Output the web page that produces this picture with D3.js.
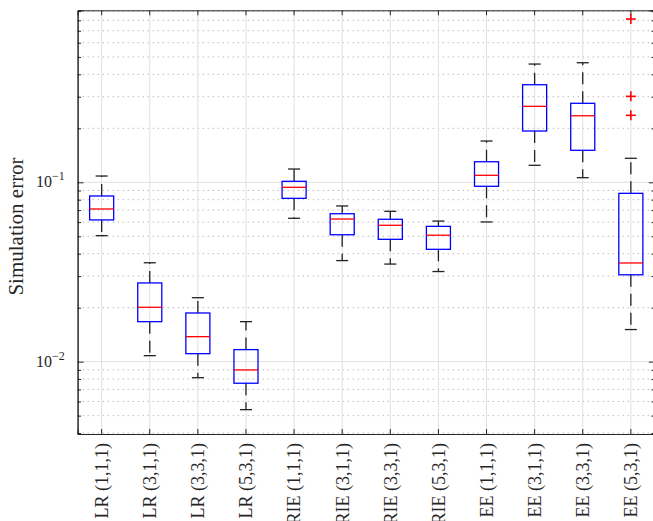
<!DOCTYPE html>
<html>
<head>
<meta charset="utf-8">
<script src="https://cdn.jsdelivr.net/npm/d3@7"></script>
<style>
  body { margin:0; background:#fff; }
  svg { display:block; }
  text { font-family:"Liberation Serif", "Times New Roman", serif; fill:#262626; }
</style>
</head>
<body>
<div class="chart"></div>
<script>
// categories along x
var categories = ["LR (1,1,1)", "LR (3,1,1)", "LR (3,3,1)", "LR (5,3,1)",
                  "RIE (1,1,1)", "RIE (3,1,1)", "RIE (3,3,1)", "RIE (5,3,1)",
                  "EE (1,1,1)", "EE (3,1,1)", "EE (3,3,1)", "EE (5,3,1)"];
// box statistics
var whiskerLow  = [0.0504, 0.0108, 0.00814, 0.0054, 0.0630, 0.0366, 0.0350, 0.0318, 0.0601, 0.1244, 0.1061, 0.0151];
var q1          = [0.0617, 0.01671, 0.01108, 0.00758, 0.0814, 0.0510, 0.0481, 0.0423, 0.0950, 0.1932, 0.1508, 0.0305];
var median      = [0.0710, 0.0201, 0.01378, 0.00899, 0.0938, 0.0624, 0.0576, 0.0507, 0.1094, 0.2652, 0.2350, 0.0355];
var q3          = [0.0839, 0.02747, 0.01868, 0.01167, 0.1013, 0.0668, 0.0622, 0.0568, 0.1302, 0.3500, 0.2757, 0.0868];
var whiskerHigh = [0.1084, 0.0356, 0.02273, 0.01671, 0.1186, 0.0738, 0.0689, 0.0608, 0.1699, 0.4564, 0.4642, 0.1361];
// outliers: category index, value
var outlierCat = [11, 11, 11];
var outlierVal = [0.8135, 0.3015, 0.2363];

var majorTicks = [0.01, 0.1];
var minorTicks = [0.004, 0.005, 0.006, 0.007, 0.008, 0.009, 0.02, 0.03, 0.04, 0.05, 0.06, 0.07, 0.08, 0.09, 0.2, 0.3, 0.4, 0.5, 0.6, 0.7, 0.8, 0.9];
var tickExp = ["\u22122", "\u22121"];

var W = 653, H = 521;
var plot = { left:77.6, right:654.9, top:10.3, bottom:434 };

var x = d3.scaleBand().domain(categories).range([plot.left, plot.right]).padding(0);
var y = d3.scaleLog().domain([0.00395, 0.91]).range([plot.bottom, plot.top]);
var bw = x.bandwidth();
var cx = function (i) { return x(categories[i]) + bw / 2; };

var svg = d3.select('.chart').append('svg').attr('width', W).attr('height', H);

// grid
var grid = svg.append('g').attr('class', 'grid');
grid.selectAll('line.minor').data(minorTicks).enter().append('line')
    .attr('x1', plot.left).attr('x2', plot.right)
    .attr('y1', function (d) { return y(d); }).attr('y2', function (d) { return y(d); })
    .attr('stroke', '#bdbdbd').attr('stroke-width', 1).attr('stroke-dasharray', '1.5,3.5');
grid.selectAll('line.major').data(majorTicks).enter().append('line')
    .attr('x1', plot.left).attr('x2', plot.right)
    .attr('y1', function (d) { return y(d); }).attr('y2', function (d) { return y(d); })
    .attr('stroke', '#e0e0e0').attr('stroke-width', 1);
grid.selectAll('line.vx').data(categories).enter().append('line')
    .attr('x1', function (d, i) { return cx(i); }).attr('x2', function (d, i) { return cx(i); })
    .attr('y1', plot.top).attr('y2', plot.bottom)
    .attr('stroke', '#e0e0e0').attr('stroke-width', 1);

// axes (ticks point inward)
var xAxis = d3.axisBottom(x).tickSize(-5).tickPadding(9);
var gx = svg.append('g').attr('transform', 'translate(0,' + plot.bottom + ')').call(xAxis);
gx.selectAll('text')
    .attr('transform', 'rotate(-90)')
    .attr('x', -9).attr('y', 0).attr('dy', '0.35em')
    .style('text-anchor', 'end')
    .style('font-size', '18px');

var xTop = d3.axisTop(x).tickSize(-5).tickFormat('');
svg.append('g').attr('transform', 'translate(0,' + plot.top + ')').call(xTop);

var yAxis = d3.axisLeft(y).tickValues(majorTicks).tickSize(-6).tickFormat('');
var gy = svg.append('g').attr('transform', 'translate(' + plot.left + ',0)').call(yAxis);
svg.append('g').attr('transform', 'translate(' + plot.left + ',0)')
    .call(d3.axisLeft(y).tickValues(minorTicks).tickSize(-3.5).tickFormat(''));
svg.append('g').attr('transform', 'translate(' + plot.right + ',0)')
    .call(d3.axisRight(y).tickValues(majorTicks).tickSize(-6).tickFormat(''));
svg.append('g').attr('transform', 'translate(' + plot.right + ',0)')
    .call(d3.axisRight(y).tickValues(minorTicks).tickSize(-3.5).tickFormat(''));

svg.selectAll('.domain').attr('stroke', '#262626').attr('stroke-width', 1);
svg.selectAll('.tick line').attr('stroke', '#262626').attr('stroke-width', 1);

// y tick labels 10^-k
var lab = svg.append('g').selectAll('text').data(majorTicks).enter().append('text')
    .attr('x', 36).attr('y', function (d) { return y(d) + 5; })
    .style('font-size', '16px');
lab.append('tspan').text('10');
lab.append('tspan').attr('dy', -7).style('font-size', '12px').text(function (d, i) { return tickExp[i]; });

// y label
svg.append('text')
    .attr('transform', 'translate(23,' + 226.5 + ') rotate(-90)')
    .style('text-anchor', 'middle')
    .style('font-size', '21px')
    .text('Simulation error');

// whiskers
var idx = d3.range(categories.length);
var marks = svg.append('g');
marks.selectAll('line.wu').data(idx).enter().append('line')
    .attr('x1', cx).attr('x2', cx)
    .attr('y1', function (i) { return y(q3[i]); }).attr('y2', function (i) { return y(whiskerHigh[i]); })
    .attr('stroke', '#222').attr('stroke-width', 1.3).attr('stroke-dasharray', '12,7');
marks.selectAll('line.wl').data(idx).enter().append('line')
    .attr('x1', cx).attr('x2', cx)
    .attr('y1', function (i) { return y(q1[i]); }).attr('y2', function (i) { return y(whiskerLow[i]); })
    .attr('stroke', '#222').attr('stroke-width', 1.3).attr('stroke-dasharray', '12,7');
// caps
[whiskerHigh, whiskerLow].forEach(function (arr) {
  marks.selectAll(null).data(idx).enter().append('line')
      .attr('x1', function (i) { return cx(i) - bw / 8; }).attr('x2', function (i) { return cx(i) + bw / 8; })
      .attr('y1', function (i) { return y(arr[i]); }).attr('y2', function (i) { return y(arr[i]); })
      .attr('stroke', '#222').attr('stroke-width', 1.3);
});

// boxes
marks.selectAll('rect').data(idx).enter().append('rect')
    .attr('x', function (i) { return cx(i) - bw / 4; })
    .attr('width', bw / 2)
    .attr('y', function (i) { return y(q3[i]); })
    .attr('height', function (i) { return y(q1[i]) - y(q3[i]); })
    .attr('fill', 'none').attr('stroke', '#0000ff').attr('stroke-width', 1.3);

// medians
marks.selectAll('line.med').data(idx).enter().append('line')
    .attr('x1', function (i) { return cx(i) - bw / 4; }).attr('x2', function (i) { return cx(i) + bw / 4; })
    .attr('y1', function (i) { return y(median[i]); }).attr('y2', function (i) { return y(median[i]); })
    .attr('stroke', '#ff0000').attr('stroke-width', 1.3);

// outliers as red +
var plus = d3.symbol().type(d3.symbolCross).size(1);
var o = marks.selectAll('g.out').data(outlierVal).enter().append('g')
    .attr('transform', function (d, k) { return 'translate(' + cx(outlierCat[k]) + ',' + y(d) + ')'; });
o.append('line').attr('x1', -5).attr('x2', 5).attr('stroke', '#ff0000').attr('stroke-width', 1.6);
o.append('line').attr('y1', -5).attr('y2', 5).attr('stroke', '#ff0000').attr('stroke-width', 1.6);
</script>
</body>
</html>
